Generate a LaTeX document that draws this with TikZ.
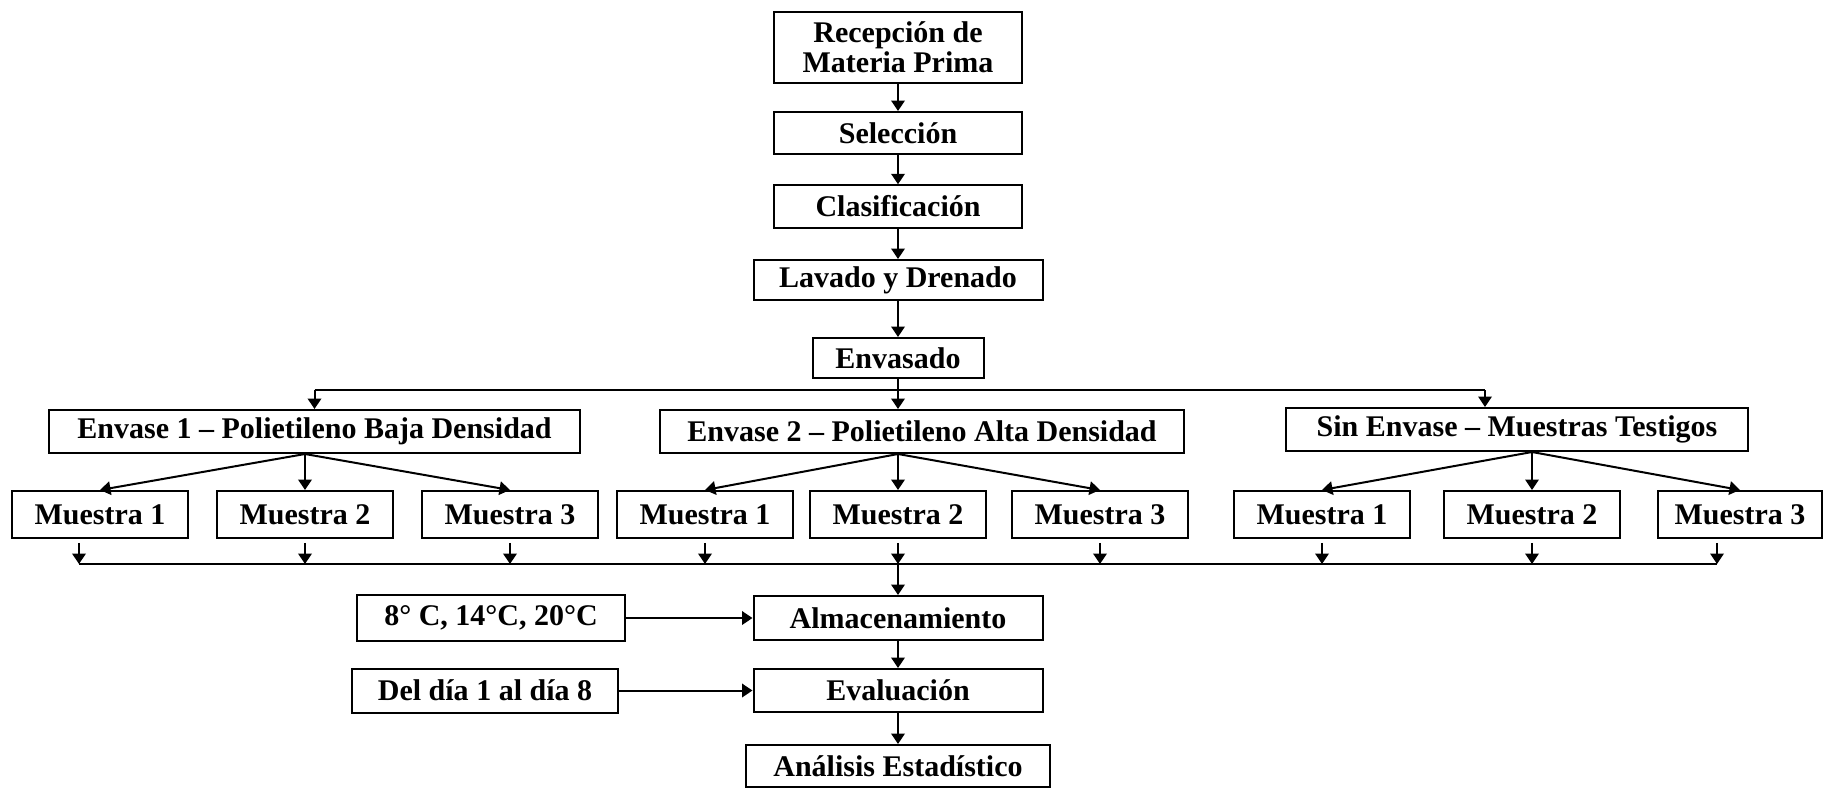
\documentclass[tikz,border=0pt]{standalone}
\usepackage{fontspec}
\setmainfont{Liberation Serif}
\usetikzlibrary{positioning,arrows.meta}

\begin{document}
\begin{tikzpicture}[
        x=0.4pt, y=-0.4pt,
        box/.style = {
            draw,
            line width=0.8pt,
            align=center,
            inner sep=2pt,
            minimum height=16.8pt,
            font=\fontsize{12}{10.8}\selectfont\bfseries
        },
        muestra/.style = {box, minimum width=70.4pt, minimum height=18.8pt},
        envase/.style = {box, minimum height=17.2pt},
        flecha/.style = {-{Triangle[length=4.2pt,width=5.4pt]}, line width=0.8pt},
        linea/.style = {line width=0.8pt}]

        \useasboundingbox (0,0) rectangle (1825,788);

        % columna principal
        \node[box, minimum width=99pt, minimum height=28.4pt] (rec) at (898,47.5) {Recepción de\\Materia Prima};
        \node[box, minimum width=99pt] (sel) at (898,133) {Selección};
        \node[box, minimum width=99pt, minimum height=17pt] (cla) at (898,206.5) {Clasificación};
        \node[box, minimum width=115.6pt, minimum height=16pt] (lav) at (898,280) {Lavado y Drenado};
        \node[box, minimum width=68.4pt, minimum height=16pt] (env) at (898,358) {Envasado};

        % envases
        \node[envase, minimum width=212.4pt] (env1) at (314.5,431.5) {Envase 1 – Polietileno Baja Densidad};
        \node[envase, minimum width=209.6pt] (env2) at (922,431.5) {Envase 2 – Polietileno Alta Densidad};
        \node[envase, minimum width=184.8pt] (env3) at (1517,429.5) {Sin Envase – Muestras Testigos};

        % muestras
        \node[muestra] (m11) at (100,514.5) {Muestra 1};
        \node[muestra] (m12) at (305,514.5) {Muestra 2};
        \node[muestra] (m13) at (510,514.5) {Muestra 3};
        \node[muestra] (m21) at (705,514.5) {Muestra 1};
        \node[muestra] (m22) at (898,514.5) {Muestra 2};
        \node[muestra] (m23) at (1100,514.5) {Muestra 3};
        \node[muestra] (m31) at (1322,514.5) {Muestra 1};
        \node[muestra] (m32) at (1532,514.5) {Muestra 2};
        \node[muestra, minimum width=65.6pt] (m33) at (1740,514.5) {Muestra 3};

        % almacenamiento y evaluacion
        \node[box, minimum width=115.6pt, minimum height=17.6pt] (alm) at (898,618) {Almacenamiento};
        \node[box, minimum width=107.2pt, minimum height=18.4pt] (temp) at (491,618) {8° C, 14°C, 20°C};
        \node[box, minimum width=115.6pt, minimum height=17.2pt] (eval) at (898,690.5) {Evaluación};
        \node[box, minimum width=106.4pt, minimum height=17.6pt] (dias) at (485,690.5) {Del día 1 al día 8};
        \node[box, minimum width=121.6pt] (ana) at (898,766) {Análisis Estadístico};

        \coordinate (arriba) at (898,390);
        \coordinate (t3) at (1485,390);
        \coordinate (abajo) at (898,564);
        \coordinate (e1) at (m12.north |- env1.south);
        \coordinate (e2) at (m22.north |- env2.south);
        \coordinate (e3) at (m32.north |- env3.south);
        \coordinate (s11) at ([xshift=-8.4pt]m11.south);
        \coordinate (s33) at ([xshift=-9.2pt]m33.south);

        \draw[flecha] (rec) -- (sel);
        \draw[flecha] (sel) -- (cla);
        \draw[flecha] (cla) -- (lav);
        \draw[flecha] (lav) -- (env);

        \draw[linea] (env1.north |- arriba) -- (t3);
        \draw[flecha] (env.south) -- (env.south |- env2.north);
        \draw[flecha] (env1.north |- arriba) -- (env1.north);
        \draw[flecha] (t3) -- (t3 |- env3.north);

        \draw[flecha] (e1) -- (m11.north);
        \draw[flecha] (e1) -- (m12.north);
        \draw[flecha] (e1) -- (m13.north);
        \draw[flecha] (e2) -- (m21.north);
        \draw[flecha] (e2) -- (m22.north);
        \draw[flecha] (e2) -- (m23.north);
        \draw[flecha] (e3) -- (m31.north);
        \draw[flecha] (e3) -- (m32.north);
        \draw[flecha] (e3) -- (m33.north);

        \draw[linea] (s11 |- abajo) -- (s33 |- abajo);
        \draw[flecha, shorten <=1.5pt] (s11) -- (s11 |- abajo);
        \draw[flecha, shorten <=1.5pt] (m12.south) -- (m12.south |- abajo);
        \draw[flecha, shorten <=1.5pt] (m13.south) -- (m13.south |- abajo);
        \draw[flecha, shorten <=1.5pt] (m21.south) -- (m21.south |- abajo);
        \draw[flecha, shorten <=1.5pt] (m22.south) -- (m22.south |- abajo);
        \draw[flecha, shorten <=1.5pt] (m23.south) -- (m23.south |- abajo);
        \draw[flecha, shorten <=1.5pt] (m31.south) -- (m31.south |- abajo);
        \draw[flecha, shorten <=1.5pt] (m32.south) -- (m32.south |- abajo);
        \draw[flecha, shorten <=1.5pt] (s33) -- (s33 |- abajo);

        \draw[flecha] (abajo) -- (alm.north);
        \draw[flecha] (temp) -- (alm);
        \draw[flecha] (alm) -- (eval);
        \draw[flecha] (dias) -- (eval);
        \draw[flecha] (eval) -- (ana);
    \end{tikzpicture}
\end{document}
